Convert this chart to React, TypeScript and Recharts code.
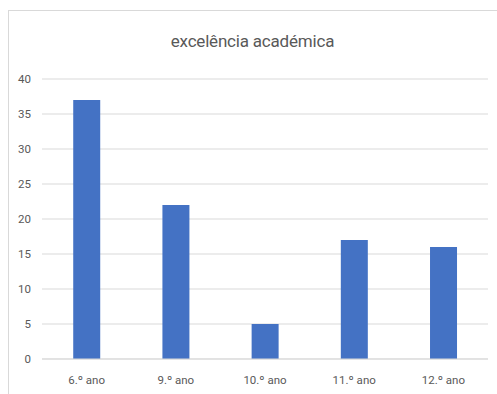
import { BarChart, Bar, XAxis, YAxis, CartesianGrid } from 'recharts';

const categories = ['6.º ano', '9.º ano', '10.º ano', '11.º ano', '12.º ano'];
const values = [37, 22, 5, 17, 16];
const yTicks = [0, 5, 10, 15, 20, 25, 30, 35, 40];

const data = categories.map((name, i) => ({ name, value: values[i] }));

const font = '"Liberation Sans Narrow", "Roboto", sans-serif';

export default function App() {
  return (
    <div style={{ position: 'absolute', left: 0, top: 0, width: 497, height: 394, background: '#fff', overflow: 'hidden' }}>
      <div
        style={{
          position: 'absolute',
          left: 8,
          top: 10,
          width: 489,
          height: 384,
          borderLeft: '1px solid #d9d9d9',
          borderTop: '1px solid #d9d9d9'
        }}
      />
      <div
        style={{
          position: 'absolute',
          left: 8,
          width: 489,
          top: 31,
          textAlign: 'center',
          fontFamily: font,
          fontSize: 17,
          letterSpacing: -0.2,
          color: '#595959'
        }}
      >
        excelência académica
      </div>
      <BarChart
        width={497}
        height={394}
        data={data}
        margin={{ top: 79, right: 9, left: 8, bottom: 10 }}
        barCategoryGap="35%"
        style={{ position: 'absolute', left: 0, top: 0 }}
      >
        <CartesianGrid vertical={false} stroke="#d9d9d9" />
        <XAxis
          dataKey="name"
          height={25}
          tickLine={false}
          axisLine={{ stroke: '#d9d9d9' }}
          tickMargin={11}
          tick={{ fill: '#595959', fontSize: 11.5, fontFamily: font }}
        />
        <YAxis
          width={34}
          domain={[0, 40]}
          ticks={yTicks}
          axisLine={false}
          tickLine={false}
          tickMargin={5}
          tick={{ fill: '#595959', fontSize: 11.5, fontFamily: font }}
        />
        <Bar dataKey="value" fill="#4472c4" isAnimationActive={false} />
      </BarChart>
    </div>
  );
}
